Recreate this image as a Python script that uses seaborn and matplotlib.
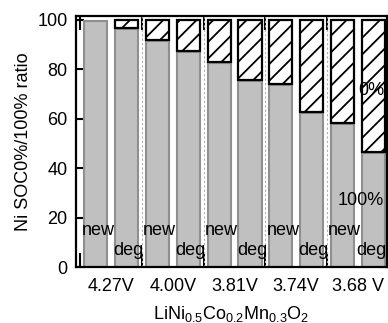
import matplotlib
matplotlib.use("Agg")
import matplotlib.pyplot as plt
import seaborn as sns
import pandas as pd
import numpy as np

# Discharge voltages (one group per voltage, each with a new and a degraded cell)
voltages = ["4.27V", "4.00V", "3.81V", "3.74V", "3.68 V"]
cells = ["new", "deg"]

# Ni SOC100% share (grey) and SOC0% share (hatched), per bar in group order
soc100 = [99.5, 96.3, 91.4, 87.0, 82.5, 75.3, 73.5, 62.5, 57.8, 46.0]
soc0 = [0.0, 3.2, 8.1, 12.5, 17.0, 24.2, 26.0, 37.0, 41.7, 53.5]

sns.set_theme(style="ticks")
plt.rcParams["font.family"] = ["Liberation Sans", "DejaVu Sans"]
plt.rcParams["mathtext.fontset"] = "custom"
plt.rcParams["mathtext.rm"] = "Liberation Sans"
plt.rcParams["mathtext.it"] = "Liberation Sans"
plt.rcParams["hatch.linewidth"] = 1.3
plt.rcParams["hatch.color"] = "black"
for key in ["text.color", "axes.labelcolor", "xtick.color", "ytick.color"]:
    plt.rcParams[key] = "black"

rows = []
for gi, v in enumerate(voltages):
    for ci, c in enumerate(cells):
        k = gi * 2 + ci
        rows.append({"pos": gi - 0.25 + 0.5 * ci, "voltage": v, "cell": c,
                     "soc100": soc100[k], "soc0": soc0[k]})
df = pd.DataFrame(rows)

fig = plt.figure(figsize=(3.88, 3.23), dpi=100)
ax = fig.add_axes([0.196, 0.173, 0.801, 0.777])

# grey SOC100% portion
sns.barplot(data=df, x="pos", y="soc100", native_scale=True, width=0.75,
            color="#c0c0c0", saturation=1, edgecolor="#8f8f8f", linewidth=1.5,
            errorbar=None, ax=ax, zorder=2)
n_grey = len(ax.patches)

# hatched SOC0% portion stacked on top of the grey part
sns.barplot(data=df, x="pos", y="soc0", native_scale=True, width=0.75,
            color="white", saturation=1, edgecolor="black", linewidth=1.6,
            errorbar=None, ax=ax, zorder=3)
for p, base, h in zip(ax.patches[n_grey:], df["soc100"], df["soc0"]):
    p.set_y(base + 0.4)
    p.set_hatch("//")
    if h <= 0:
        p.set_visible(False)

# group separators
for b in np.arange(0.5, len(voltages) - 0.5, 1.0):
    ax.axvline(b, color="#b0b0b0", lw=0.8, ls=(0, (2, 2)), zorder=1)

# cell labels inside each group
for gi in range(len(voltages)):
    ax.text(gi - 0.48, 14.8, "new", ha="left", va="center", fontsize=13, zorder=5)
    ax.text(min(gi + 0.53, 4.465), 6.6, "deg", ha="right", va="center",
            fontsize=13, zorder=5)

ax.text(4.42, 27.0, "100%", ha="right", va="center", fontsize=13, zorder=5)
ax.text(4.43, 71.5, "0%", ha="right", va="center", fontsize=13, zorder=5)

ax.set_xlim(-0.57, 4.47)
ax.set_ylim(0, 101.5)
ax.set_yticks(np.arange(0, 101, 20))
ax.set_xticks(np.arange(-0.5, len(voltages) - 0.5, 1.0))
ax.set_xticklabels([])
ax.set_xticks(np.arange(len(voltages)), minor=True)
ax.set_xticklabels(voltages, minor=True)

ax.tick_params(axis="x", which="major", direction="in", length=10, width=1.5,
               top=True, bottom=True, color="black")
ax.tick_params(axis="x", which="minor", length=0, pad=8, labelsize=13,
               colors="black")
ax.tick_params(axis="y", which="major", direction="in", length=6, width=1.5,
               left=True, right=True, labelsize=13, pad=6, colors="black")

for s in ax.spines.values():
    s.set_visible(True)
    s.set_linewidth(1.6)
    s.set_color("black")
    s.set_zorder(6)

ax.set_xlabel(r"LiNi$_{0.5}$Co$_{0.2}$Mn$_{0.3}$O$_2$", fontsize=13, labelpad=6)
ax.set_ylabel("Ni SOC0%/100% ratio", fontsize=13, labelpad=4)

fig.savefig("out.png", dpi=100)
